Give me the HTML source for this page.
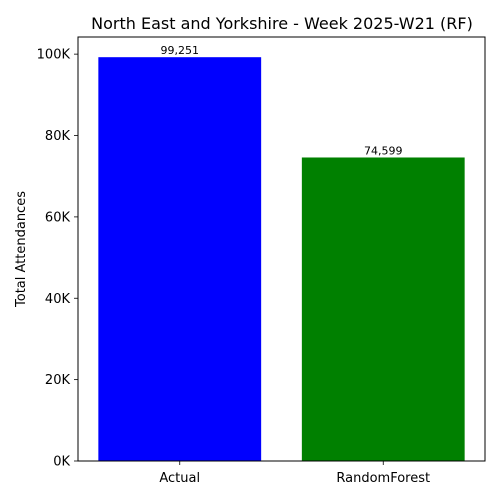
<!DOCTYPE html>
<html><head><meta charset="utf-8"><style>
body{margin:0;background:#fff;font-family:"DejaVu Sans",sans-serif;}
</style></head><body>
<svg id="chart" width="500" height="500" xmlns="http://www.w3.org/2000/svg" font-family="DejaVu Sans, sans-serif"></svg>
<script>
const categories = ["Actual", "RandomForest"];
const values = [99251, 74599];
const valueLabels = ["99,251", "74,599"];
const colors = ["#0000ff", "#008000"];
const yTicks = [0, 20000, 40000, 60000, 80000, 100000];
const yTickLabels = ["0K", "20K", "40K", "60K", "80K", "100K"];

const svg = document.getElementById('chart');
const NS = "http://www.w3.org/2000/svg";
const L = 78, R = 485, T = 37, B = 461;
const yMax = 104213;
const y = v => B - (v / yMax) * (B - T);
const xUnit = (R - L) / 2;
const x = i => L + (i + 0.5) * xUnit;
function mk(tag, attrs, text) {
  const e = document.createElementNS(NS, tag);
  for (const k in attrs) e.setAttribute(k, attrs[k]);
  if (text !== undefined) e.textContent = text;
  svg.appendChild(e);
  return e;
}
let t = mk('text', {x: 282, y: 29, 'font-size': 16, 'text-anchor': 'middle', fill: '#000'}, 'North East and Yorkshire - Week 2025-W21 (RF)');


values.forEach((v, i) => {
  const w = 0.8 * xUnit;
  const r = mk('rect', {x: x(i) - w / 2, y: y(v), width: w, height: B - y(v), fill: colors[i]});
  
  
  const lb = mk('text', {x: x(i), y: y(v) - 3, 'font-size': 11, 'text-anchor': 'middle', fill: '#000'}, valueLabels[i]);
  
  
  mk('line', {x1: x(i), x2: x(i), y1: B, y2: B + 4, stroke: '#000', 'stroke-width': 0.8});
  const xl = mk('text', {x: x(i), y: B + 21, 'font-size': 13, 'text-anchor': 'middle', fill: '#000'}, categories[i]);
  
  
});
yTicks.forEach((v, i) => {
  mk('line', {x1: L - 4, x2: L, y1: y(v), y2: y(v), stroke: '#000', 'stroke-width': 0.8});
  const yl = mk('text', {x: L - 8, y: y(v) + 4.5, 'font-size': 13, 'text-anchor': 'end', fill: '#000'}, yTickLabels[i]);
  
  
});
const frame = mk('rect', {x: L, y: T, width: R - L, height: B - T, fill: 'none', stroke: '#000', 'stroke-width': 1});


const yt = mk('text', {x: 0, y: 0, 'font-size': 13, 'text-anchor': 'middle', fill: '#000', transform: 'translate(25,249) rotate(-90)'}, 'Total Attendances');


</script>
</body></html>
